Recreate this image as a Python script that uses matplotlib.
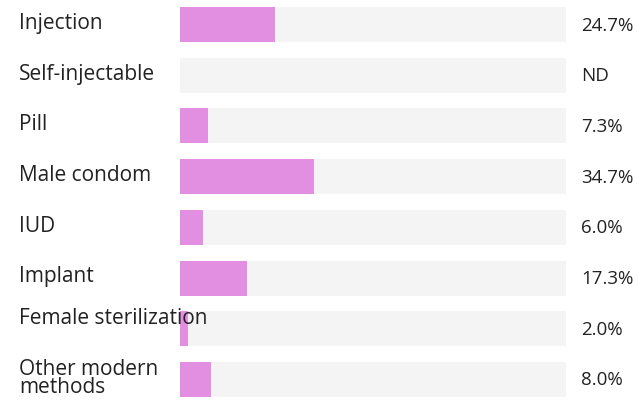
import matplotlib
matplotlib.use("Agg")
import matplotlib.pyplot as plt

methods = ["Injection", "Self-injectable", "Pill", "Male condom", "IUD",
           "Implant", "Female sterilization", "Other modern\nmethods"]
shares = [24.7, None, 7.3, 34.7, 6.0, 17.3, 2.0, 8.0]

W, H = 637, 402
fig = plt.figure(figsize=(W / 100, H / 100), dpi=100)
ax = fig.add_axes([180 / W, 0, 386 / W, 1])

step = 50.7
top = 25.5
ax.set_ylim((H - top) / step, -top / step)
ax.set_xlim(0, 100)
ax.axis("off")

pink = "#e28fe2"
grey = "#f4f4f4"
txt = "#222222"
font = "Open Sans"

rows = range(len(methods))
ax.barh(rows, [100] * len(methods), height=35 / step, color=grey, left=0)
ax.barh(rows, [s if s is not None else 0 for s in shares], height=35 / step, color=pink)

for i, (m, s) in enumerate(zip(methods, shares)):
    dy = -0.04
    if m == "Female sterilization":
        dy = -0.22
    ax.text(-161 / 3.86, i + dy, m, ha="left", va="center", fontsize=15,
            color=txt, family=font, linespacing=0.78, clip_on=False)
    label = "ND" if s is None else f"{s:.1f}%"
    ax.text(100 + 15 / 3.86, i, label, ha="left", va="center", fontsize=13.5,
            color=txt, family=font, clip_on=False)

fig.savefig("out.png", dpi=100)
